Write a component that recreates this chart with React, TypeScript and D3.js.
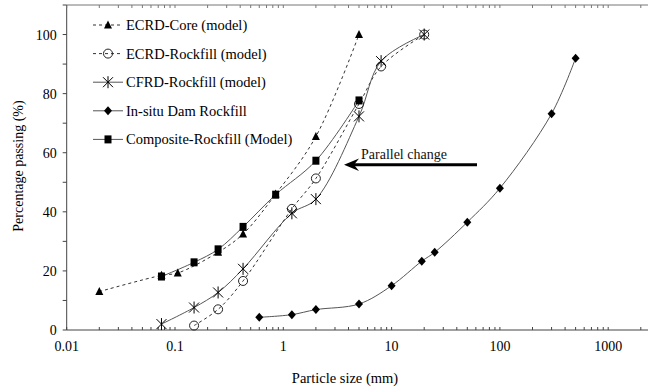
import React from "react";
import * as d3 from "d3";

// values (size in mm, % passing)
const coreSize = [0.02, 0.075, 0.106, 0.25, 0.425, 0.85, 2, 5];
const corePass = [13, 18.5, 19.3, 26.3, 32.5, 46, 65.5, 100];

const ecrdSize = [0.15, 0.25, 0.425, 1.2, 2, 5, 8, 20];
const ecrdPass = [1.5, 7, 16.6, 41, 51.3, 76.5, 89.2, 100];

const cfrdSize = [0.075, 0.15, 0.25, 0.425, 1.2, 2, 5, 8, 20];
const cfrdPass = [2, 7.6, 12.7, 20.7, 39.5, 44.3, 72.3, 91, 100];

const insituSize = [0.6, 1.2, 2, 5, 10, 19, 25, 50, 100, 300, 500];
const insituPass = [4.3, 5.2, 6.9, 8.8, 15, 23.3, 26.3, 36.5, 48, 73.2, 92];

const compSize = [0.075, 0.15, 0.25, 0.425, 0.85, 2, 5];
const compPass = [18.1, 22.9, 27.3, 34.9, 45.8, 57.3, 77.7];

const xTickLabels = [0.01, 0.1, 1, 10, 100, 1000];
const yTickLabels = [0, 20, 40, 60, 80, 100];

const seriesNames = [
  "ECRD-Core (model)",
  "ECRD-Rockfill (model)",
  "CFRD-Rockfill (model)",
  "In-situ Dam Rockfill",
  "Composite-Rockfill (Model)",
];

const W = 648;
const H = 392;
const FONT = "Liberation Serif, DejaVu Serif, serif";

const x = d3.scaleLog().domain([0.01, 10000]).range([66.7, 66.7 + 6 * 108.3]);
const y = d3.scaleLinear().domain([0, 110]).range([330, 5]);

type Pt = [number, number];
const zip = (a: number[], b: number[]): Pt[] => a.map((v, i) => [v, b[i]]);

const line = d3
  .line<Pt>()
  .x((d) => x(d[0]))
  .y((d) => y(d[1]))
  .curve(d3.curveCatmullRom.alpha(0.5));

function Marker({ kind, cx, cy }: { kind: string; cx: number; cy: number }) {
  if (kind === "tri")
    return <path d={`M${cx},${cy - 4.5}L${cx + 4},${cy + 3.5}L${cx - 4},${cy + 3.5}Z`} fill="#000" />;
  if (kind === "circle")
    return <circle cx={cx} cy={cy} r={4.5} fill="none" stroke="#222" strokeWidth={1} />;
  if (kind === "star")
    return (
      <path
        d={`M${cx},${cy - 6}V${cy + 6}M${cx - 5},${cy - 5}L${cx + 5},${cy + 5}M${cx - 5},${cy + 5}L${cx + 5},${cy - 5}`}
        stroke="#000"
        strokeWidth={1}
        fill="none"
      />
    );
  if (kind === "diamond")
    return <path d={`M${cx},${cy - 4.5}L${cx + 4},${cy}L${cx},${cy + 4.5}L${cx - 4},${cy}Z`} fill="#000" />;
  return <rect x={cx - 3.5} y={cy - 4} width={7} height={8} fill="#000" />;
}

const series = [
  { pts: zip(coreSize, corePass), marker: "tri", dash: "3,3", color: "#333" },
  { pts: zip(ecrdSize, ecrdPass), marker: "circle", dash: "3,3", color: "#333" },
  { pts: zip(cfrdSize, cfrdPass), marker: "star", dash: undefined, color: "#555" },
  { pts: zip(insituSize, insituPass), marker: "diamond", dash: undefined, color: "#555" },
  { pts: zip(compSize, compPass), marker: "square", dash: undefined, color: "#555" },
];

export default function App() {
  const [x0] = x.range();
  const y0 = y(0);
  const yTop = y(110);

  // log minor ticks across the visible range
  const minor: number[] = [];
  for (let e = -2; e < 4; e++) for (let m = 1; m < 10; m++) minor.push(m * Math.pow(10, e));
  const visMinor = minor.filter((v) => x(v) <= W);

  return (
    <svg
      width={W}
      height={H}
      style={{ position: "absolute", left: 0, top: 0, background: "#fff", fontFamily: FONT }}
    >
      {/* axes */}
      <line x1={x0} x2={W} y1={y0} y2={y0} stroke="#444" />
      <line x1={x0} x2={W} y1={yTop} y2={yTop} stroke="#777" />
      <line x1={x0} x2={x0} y1={yTop} y2={y0} stroke="#444" />
      {visMinor.map((v, i) => (
        <g key={i}>
          <line x1={x(v)} x2={x(v)} y1={y0} y2={y0 - 3} stroke="#444" />
          <line x1={x(v)} x2={x(v)} y1={yTop} y2={yTop + 3} stroke="#777" />
        </g>
      ))}
      {d3.range(0, 111, 10).map((v) => (
        <line key={v} x1={x0 - 4} x2={x0} y1={y(v)} y2={y(v)} stroke="#444" />
      ))}
      {xTickLabels.map((v) => (
        <text key={v} x={x(v)} y={y0 + 20.5} fontSize={14} textAnchor="middle" fill="#000">
          {v}
        </text>
      ))}
      {yTickLabels.map((v) => (
        <text key={v} x={x0 - 10} y={y(v) + 5} fontSize={14} textAnchor="end" fill="#000">
          {v}
        </text>
      ))}
      <text x={345} y={383} fontSize={14.5} textAnchor="middle">
        Particle size (mm)
      </text>
      <text transform="translate(23,166) rotate(-90)" fontSize={14} textAnchor="middle">
        Percentage passing (%)
      </text>

      {/* curves */}
      {series.map((s, i) => (
        <path key={i} d={line(s.pts) || ""} fill="none" stroke={s.color} strokeWidth={1} strokeDasharray={s.dash} />
      ))}
      {series.map((s, i) => (
        <g key={i}>
          {s.pts.map((p, j) => (
            <Marker key={j} kind={s.marker} cx={x(p[0])} cy={y(p[1])} />
          ))}
        </g>
      ))}

      {/* legend */}
      {seriesNames.map((name, i) => {
        const ly = 25 + i * 28.6;
        const s = series[i];
        return (
          <g key={name}>
            <line x1={93} x2={123} y1={ly} y2={ly} stroke={s.color} strokeDasharray={s.dash} />
            <Marker kind={s.marker} cx={108} cy={ly} />
            <text x={126} y={ly + 5} fontSize={14.5}>
              {name}
            </text>
          </g>
        );
      })}

      {/* annotation */}
      <text x={361} y={159} fontSize={14} fill="#111">
        Parallel change
      </text>
      <line x1={477} x2={350} y1={164.7} y2={164.7} stroke="#000" strokeWidth={3} />
      <path d="M344,164.7L359,158.5L354,164.7L359,171Z" fill="#000" />
    </svg>
  );
}
